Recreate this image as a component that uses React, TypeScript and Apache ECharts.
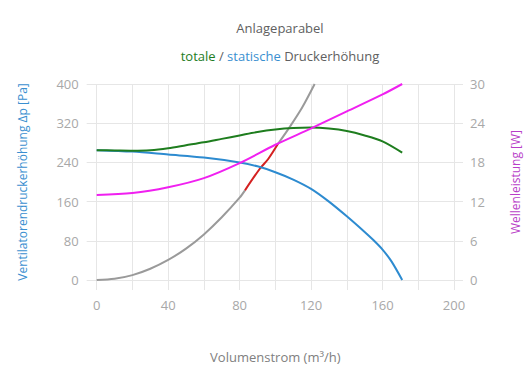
import React, { useEffect, useRef } from "react";
import * as echarts from "echarts";

// Volumenstrom (m³/h) -> static pressure (Pa)
const staticX = [0, 20, 40, 60, 80, 90, 100, 110, 120, 130, 140, 150, 155, 160, 165, 171];
const staticY = [265, 262, 256, 250, 240, 232, 220, 205, 186, 160, 130, 98, 81, 62, 38, 0];

// total pressure (Pa)
const totalX = [0, 10, 20, 30, 40, 50, 60, 70, 80, 90, 100, 110, 120, 130, 140, 150, 160, 171];
const totalY = [265, 264.5, 264, 265, 269, 275, 281, 288, 295, 302, 307, 310, 311, 309, 304, 295, 283, 260];

// shaft power (W), right axis
const powerX = [0, 20, 40, 60, 80, 100, 120, 140, 160, 171];
const powerY = [13.0, 13.3, 14.2, 15.6, 17.9, 20.7, 23.2, 25.8, 28.4, 30.0];

// system parabola (Pa)
const paraX = [0, 10, 20, 30, 40, 50, 60, 70, 80, 83];
const paraY = [0, 2.5, 10, 23, 41, 64, 93, 128, 168, 183];
const paraX2 = [101.5, 108, 115, 122];
const paraY2 = [278, 312, 352, 400];

// red operating range on the parabola (Pa)
const redX = [83, 91.3, 96, 101.5];
const redY = [183, 227, 247, 278];

const pairs = (xs: number[], ys: number[]) => xs.map((x, i) => [x, ys[i]]);

const GRID = "#e6e6e6";
const LABEL = "#a8a8a8";
const FONT = "Open Sans";

const lineSeries = (data: number[][], color: string, yAxisIndex = 0) => ({
  type: "line",
  yAxisIndex,
  data,
  smooth: 0.3,
  showSymbol: false,
  lineStyle: { color, width: 2 },
});

export default function App() {
  const ref = useRef<HTMLDivElement>(null);
  useEffect(() => {
    if (!ref.current) return;
    const chart = echarts.init(ref.current, undefined, { renderer: "svg" });
    chart.setOption({
      animation: false,
      textStyle: { fontFamily: FONT },
      title: [
        {
          text: "Anlageparabel",
          left: 275,
          top: 16,
          textAlign: "center",
          textStyle: { fontSize: 13, fontWeight: "normal", color: "#606060", fontFamily: FONT },
        },
        {
          text: "{g|totale} / {b|statische} Druckerhöhung",
          left: 275,
          top: 44,
          textAlign: "center",
          textStyle: {
            fontSize: 13,
            fontWeight: "normal",
            color: "#606060",
            fontFamily: FONT,
            rich: {
              g: { color: "#1e7d1e", fontSize: 13, fontFamily: FONT },
              b: { color: "#3a8fd0", fontSize: 13, fontFamily: FONT },
            },
          },
        },
      ],
      grid: { left: 96.7, right: 76, top: 84, bottom: 110, containLabel: false },
      xAxis: {
        type: "value",
        min: 0,
        max: 200,
        interval: 20,
        name: "Volumenstrom (m³/h)",
        nameLocation: "middle",
        nameGap: 70,
        nameTextStyle: { color: "#808080", fontSize: 13, fontFamily: FONT },
        axisLine: { show: true, lineStyle: { color: GRID } },
        axisTick: { show: true, length: 10, lineStyle: { color: GRID } },
        axisLabel: {
          color: LABEL,
          fontSize: 13,
          margin: 18,
          formatter: (v: number) => (v % 40 === 0 ? String(v) : ""),
        },
        splitLine: { show: true, lineStyle: { color: GRID } },
      },
      yAxis: [
        {
          type: "value",
          min: 0,
          max: 400,
          interval: 80,
          name: "Ventilatorendruckerhöhung Δp [Pa]",
          nameLocation: "middle",
          nameGap: 68,
          nameTextStyle: { color: "#3a8fd0", fontSize: 12, fontFamily: FONT },
          axisLine: { show: false },
          axisTick: { show: true, length: 10, lineStyle: { color: GRID } },
          axisLabel: { color: LABEL, fontSize: 13, margin: 18 },
          splitLine: { show: true, lineStyle: { color: GRID } },
        },
        {
          type: "value",
          min: 0,
          max: 30,
          interval: 6,
          position: "right",
          name: "Wellenleistung [W]",
          nameLocation: "middle",
          nameGap: 55,
          nameTextStyle: { color: "#b83ec8", fontSize: 12, fontFamily: FONT },
          axisLine: { show: false },
          axisTick: { show: true, length: 9, lineStyle: { color: GRID } },
          axisLabel: { color: LABEL, fontSize: 13, margin: 16 },
          splitLine: { show: false },
        },
      ],
      series: [
        lineSeries(pairs(paraX, paraY), "#9a9a9a"),
        lineSeries(pairs(paraX2, paraY2), "#9a9a9a"),
        lineSeries(pairs(redX, redY), "#d42020"),
        lineSeries(pairs(staticX, staticY), "#2d8bd0"),
        lineSeries(pairs(totalX, totalY), "#1e7d1e"),
        lineSeries(pairs(powerX, powerY), "#f020f0", 1),
      ],
    });
    return () => chart.dispose();
  }, []);
  return <div ref={ref} style={{ width: 530, height: 390, position: "absolute", left: 0, top: 0 }} />;
}
